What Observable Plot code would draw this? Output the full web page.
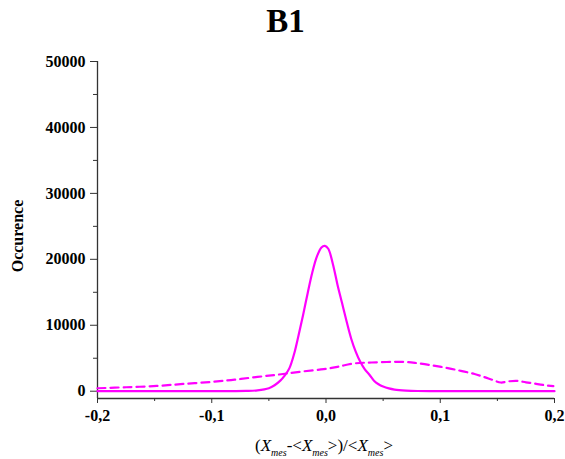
<!DOCTYPE html>
<html>
<head>
<meta charset="utf-8">
<script src="https://cdn.jsdelivr.net/npm/d3@7"></script>
<script src="https://cdn.jsdelivr.net/npm/@observablehq/plot@0.6"></script>
<style>
  html, body { margin: 0; padding: 0; background: #fff; }
  #chart { position: relative; width: 565px; height: 459px; }
</style>
</head>
<body>
<div id="chart"></div>
<script>
// ---- data ----
const solidX = [-0.2, -0.15, -0.1, -0.08, -0.07, -0.06, -0.05, -0.045, -0.04, -0.036, -0.032, -0.028, -0.024, -0.020, -0.016, -0.012, -0.008, -0.004, -0.001, 0.002, 0.006, 0.010, 0.014, 0.018, 0.022, 0.026, 0.030, 0.034, 0.038, 0.042, 0.046, 0.050, 0.055, 0.060, 0.070, 0.080, 0.1, 0.15, 0.2];
const solidY = [0, 0, 0, 10, 40, 130, 450, 900, 1600, 2400, 3500, 5600, 8500, 11600, 14900, 18000, 20400, 21800, 22050, 21600, 19300, 16200, 13400, 10600, 8000, 6000, 4450, 3300, 2500, 1600, 1050, 700, 420, 250, 100, 30, 0, 0, 0];

const dashX = [-0.2, -0.175, -0.148, -0.125, -0.101, -0.08, -0.06, -0.045, -0.034, -0.02, -0.002, 0.01, 0.024, 0.04, 0.068, 0.08, 0.092, 0.105, 0.118, 0.13, 0.138, 0.146, 0.153, 0.16, 0.167, 0.175, 0.182, 0.19, 0.199];
const dashY = [450, 600, 800, 1100, 1400, 1750, 2170, 2450, 2690, 3000, 3340, 3700, 4200, 4350, 4450, 4250, 3950, 3550, 3090, 2600, 2170, 1700, 1320, 1500, 1570, 1350, 1170, 950, 760];

const xMajorTicks = [-0.2, -0.1, 0.0, 0.1, 0.2];
const xMinorTicks = [-0.15, -0.05, 0.05, 0.15];
const yMajorTicks = [0, 10000, 20000, 30000, 40000, 50000];
const yMinorTicks = [5000, 15000, 25000, 35000, 45000];
const xDomain = [-0.2, 0.2];
const yDomain = [-1106, 50000];

const title = "B1";
const yLabel = "Occurence";

// ---- build ----
const solid = solidX.map((x, i) => ({x, y: solidY[i]}));
const dashed = dashX.map((x, i) => ({x, y: dashY[i]}));
const fmtX = d => d.toFixed(1).replace(".", ",");

const plot = Plot.plot({
  width: 565,
  height: 459,
  marginLeft: 97,
  marginRight: 11,
  marginTop: 61,
  marginBottom: 61,
  style: {fontFamily: "'Liberation Serif', 'Times New Roman', serif", fontSize: "16px", fontWeight: "bold", color: "#000", background: "#fff"},
  x: {domain: xDomain},
  y: {domain: yDomain},
  marks: [
    Plot.axisX({ticks: xMajorTicks, tickSize: 5, tickPadding: 6, tickFormat: fmtX, label: null, stroke: "#333", fill: "#000"}),
    Plot.axisX({ticks: xMinorTicks, tickSize: 3, tickFormat: () => "", label: null, stroke: "#333"}),
    Plot.axisY({ticks: yMajorTicks, tickSize: 7, tickPadding: 5, tickFormat: d => String(d), label: null, stroke: "#333", fill: "#000"}),
    Plot.axisY({ticks: yMinorTicks, tickSize: 4, tickFormat: () => "", label: null, stroke: "#333"}),
    Plot.ruleX([xDomain[0]], {stroke: "#333", strokeWidth: 1.3}),
    Plot.ruleY([yDomain[0]], {stroke: "#333", strokeWidth: 1.3}),
    Plot.line(dashed, {x: "x", y: "y", stroke: "#ff00ff", strokeWidth: 2.2, strokeDasharray: "8,5", curve: "catmull-rom"}),
    Plot.line(solid, {x: "x", y: "y", stroke: "#ff00ff", strokeWidth: 2.2, curve: "catmull-rom"})
  ]
});

document.getElementById("chart").appendChild(plot);

// ---- labels ----
const svg = d3.select(plot);
const serif = "'Liberation Serif', 'Times New Roman', serif";
svg.append("text")
  .attr("x", 285.5).attr("y", 32)
  .attr("text-anchor", "middle")
  .style("font-family", serif).style("font-size", "33px").style("font-weight", "bold")
  .attr("fill", "#000")
  .text(title);

svg.append("text")
  .attr("transform", "translate(23,236) rotate(-90)")
  .attr("text-anchor", "middle")
  .style("font-family", serif).style("font-size", "16px").style("font-weight", "bold")
  .attr("fill", "#000")
  .text(yLabel);

const xl = svg.append("text")
  .attr("x", 324).attr("y", 451)
  .attr("text-anchor", "middle")
  .style("font-family", serif).style("font-size", "17px").style("font-weight", "normal")
  .attr("fill", "#000");
const parts = [
  ["(", null], ["X", "it"], ["mes", "sub"], ["-<", null], ["X", "it"], ["mes", "sub"],
  [">)/<", null], ["X", "it"], ["mes", "sub"], [">", null]
];
let afterSub = false;
parts.forEach(([t, kind]) => {
  const ts = xl.append("tspan").text(t);
  if (kind === "it") ts.style("font-style", "italic");
  if (kind === "sub") {
    ts.style("font-style", "italic").style("font-size", "10px").attr("dy", 5);
    afterSub = true;
  } else if (afterSub) {
    ts.attr("dy", -5);
    afterSub = false;
  }
});
</script>
</body>
</html>
